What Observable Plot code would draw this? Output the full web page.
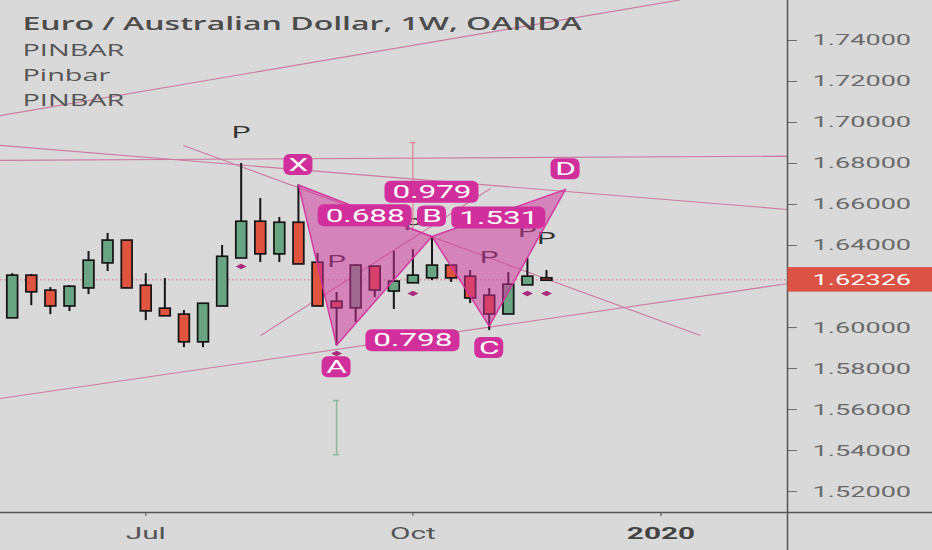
<!DOCTYPE html>
<html>
<head>
<meta charset="utf-8">
<script src="https://cdn.jsdelivr.net/npm/d3@7"></script>
<script src="https://cdn.jsdelivr.net/npm/@observablehq/plot@0.6"></script>
<style>
  html, body { margin: 0; padding: 0; background: #d9d9d9; overflow: hidden; }
</style>
</head>
<body>
<div id="chart"></div>
<script>
// ---------- DATA ----------
const weeks = ["2019-05-13","2019-05-20","2019-05-27","2019-06-03","2019-06-10","2019-06-17","2019-06-24",
  "2019-07-01","2019-07-08","2019-07-15","2019-07-22","2019-07-29","2019-08-05","2019-08-12","2019-08-19",
  "2019-08-26","2019-09-02","2019-09-09","2019-09-16","2019-09-23","2019-09-30","2019-10-07","2019-10-14",
  "2019-10-21","2019-10-28","2019-11-04","2019-11-11","2019-11-18","2019-11-25"];
const opens  = [1.6049,1.6249,1.6176,1.6107,1.6195,1.6317,1.6420,1.6200,1.6088,1.6059,1.5932,1.6107,1.6341,1.6512,1.6361,
  1.6507,1.6312,1.6122,1.6098,1.6293,1.6180,1.6220,1.6244,1.6298,1.6244,1.6151,1.6068,1.6210,1.6236];
const highs  = [1.6263,1.6259,1.6195,1.6205,1.6371,1.6459,1.6422,1.6263,1.6239,1.6083,1.6117,1.6400,1.6800,1.6629,1.6537,
  1.6695,1.6361,1.6171,1.6307,1.6297,1.6371,1.6380,1.6444,1.6302,1.6278,1.6190,1.6268,1.6337,1.6278];
const lows   = [1.6045,1.6107,1.6063,1.6078,1.6161,1.6273,1.6193,1.6034,1.6055,1.5902,1.5902,1.6105,1.6338,1.6317,1.6317,
  1.6310,1.6105,1.5912,1.6024,1.6146,1.6088,1.6215,1.6229,1.6220,1.6117,1.5985,1.6066,1.6208,1.6229];
const closes = [1.6249,1.6176,1.6107,1.6195,1.6322,1.6420,1.6195,1.6083,1.6059,1.5932,1.6112,1.6341,1.6512,1.6361,1.6507,
  1.6312,1.6107,1.6098,1.6298,1.6185,1.6220,1.6249,1.6298,1.6244,1.6146,1.6068,1.6205,1.6244,1.62326];
const lastPrice = 1.62326;

const xDomain = ["2019-05-08T17:00Z", "2020-02-21T10:00Z"];
const yDomain = [1.5098, 1.7595];
const yTicks = [1.52, 1.54, 1.56, 1.58, 1.60, 1.64, 1.66, 1.68, 1.70, 1.72, 1.74];
const xTickDates = ["2019-07-01", "2019-10-07", "2020-01-06"];
const xTickLabels = ["Jul", "Oct", "2020"];
const xTickBold = [false, false, true];

const titleText = "Euro / Australian Dollar, 1W, OANDA";
const indicatorNames = ["PINBAR", "Pinbar", "PINBAR"];

// XABCD pattern
const pNames  = ["X", "A", "B", "C", "D"];
const pDates  = ["2019-08-26", "2019-09-09", "2019-10-14", "2019-11-04", "2019-12-02"];
const pPrices = [1.6695, 1.5914, 1.6444, 1.6007, 1.6674];
const pSide   = ["above", "below", "above", "below", "above"];
const ratioTexts = ["0.688", "0.798", "1.531", "0.979"];
const ratioFrom  = ["X", "A", "B", "X"];
const ratioTo    = ["B", "C", "D", "D"];

// pinbar signals
const pinDates  = ["2019-08-05", "2019-09-09", "2019-10-07", "2019-11-04", "2019-11-18", "2019-11-25"];
const pinPrices = [1.6951, 1.6322, 1.6500, 1.6339, 1.6466, 1.6434];
const diamondDates  = ["2019-08-05", "2019-09-09", "2019-10-07", "2019-11-18", "2019-11-25"];
const diamondPrices = [1.6298, 1.5873, 1.6166, 1.6166, 1.6166];

// hand-drawn trend lines
const lineStartDates  = ["2019-05-06", "2019-05-06", "2019-05-06", "2019-07-14T19:00Z", "2019-05-06", "2019-08-12T03:00Z"];
const lineStartPrices = [1.7028, 1.6891, 1.6815, 1.6888, 1.5649, 1.5961];
const lineEndDates    = ["2020-01-13", "2020-02-24", "2020-02-24", "2020-01-20T12:00Z", "2020-02-24", "2019-11-04T11:00Z"];
const lineEndPrices   = [1.7598, 1.6573, 1.6836, 1.5961, 1.6219, 1.6678];

// vertical measure markers
const greenMarkDate = "2019-09-09", greenMarkTop = 1.5644, greenMarkBottom = 1.5380;
const pinkMarkDate  = "2019-10-07", pinkMarkTop  = 1.6902, pinkMarkBottom  = 1.6478;

// ---------- BUILD ----------
const GREEN = "#6aa583", RED = "#e0533f", MAGENTA = "#d1309c", LINE = "#cc7aa4";
const candles = weeks.map((w, i) => ({
  date: new Date(w), open: opens[i], high: highs[i], low: lows[i], close: closes[i],
  top: Math.max(opens[i], closes[i]), bottom: Math.min(opens[i], closes[i])
}));
const ups = candles.filter(d => d.close >= d.open);
const downs = candles.filter(d => d.close < d.open);

const pts = pNames.map((n, i) => ({name: n, date: new Date(pDates[i]), price: pPrices[i], side: pSide[i]}));
const byName = Object.fromEntries(pts.map(p => [p.name, p]));
const triPts = [];
[["X","A","B","X"], ["B","C","D","B"]].forEach((tri, t) => tri.forEach(n => triPts.push({tri: t, date: byName[n].date, price: byName[n].price})));
const ratios = ratioTexts.map((txt, i) => {
  const a = byName[ratioFrom[i]], b = byName[ratioTo[i]];
  return {text: txt, a, b, date: new Date((a.date.getTime() + b.date.getTime()) / 2), price: (a.price + b.price) / 2};
});
const pins = pinDates.map((d, i) => ({date: new Date(d), price: pinPrices[i]}));
const diamonds = diamondDates.map((d, i) => ({date: new Date(d), price: diamondPrices[i]}));
const trend = lineStartDates.map((d, i) => ({x1: new Date(d), y1: lineStartPrices[i], x2: new Date(lineEndDates[i]), y2: lineEndPrices[i]}));
const xTicks = xTickDates.map((d, i) => ({date: new Date(d), label: xTickLabels[i], bold: xTickBold[i]}));
const xEnd = new Date(xDomain[1]);
const labelOf = d => (xTicks.find(t => +t.date === +d) || {}).label;

const flatDiamond = {
  draw(ctx, size) {
    const r = Math.sqrt(size / Math.PI);
    ctx.moveTo(-r * 1.1, 0); ctx.lineTo(0, -r * 0.55); ctx.lineTo(r * 1.1, 0); ctx.lineTo(0, r * 0.55); ctx.closePath();
  }
};

const above = pts.filter(p => p.side === "above");
const below = pts.filter(p => p.side === "below");

const chart = Plot.plot({
  width: 932, height: 550,
  marginLeft: 0, marginRight: 145, marginTop: 0, marginBottom: 38,
  style: {background: "#d9d9d9", fontFamily: "Roboto", color: "#555"},
  x: {type: "utc", domain: xDomain.map(d => new Date(d))},
  y: {domain: yDomain},
  marks: [
    // trend lines
    Plot.link(trend, {x1: "x1", y1: "y1", x2: "x2", y2: "y2", stroke: LINE, strokeWidth: 1.1, clip: true}),
    // current price line
    Plot.ruleY([lastPrice], {stroke: "#e06a78", strokeDasharray: "1.5,2.5", strokeWidth: 1}),
    // candles
    Plot.ruleX(candles, {x: "date", y1: "high", y2: "low", stroke: "#151515", strokeWidth: 2}),
    Plot.ruleX(candles, {x: "date", y1: "top", y2: "bottom", stroke: "#151515", strokeWidth: 12.5, insetTop: -1.7, insetBottom: -1.7}),
    Plot.ruleX(ups, {x: "date", y1: "top", y2: "bottom", stroke: GREEN, strokeWidth: 9}),
    Plot.ruleX(downs, {x: "date", y1: "top", y2: "bottom", stroke: RED, strokeWidth: 9}),
    // pinbar markers
    Plot.text(pins, {x: "date", y: "price", text: () => "P", fontSize: 17, fill: "#333", lineAnchor: "middle"}),
    Plot.dot(diamonds, {x: "date", y: "price", symbol: flatDiamond, r: 5, fill: "#a92c7c", stroke: "none"}),
    // measure markers
    Plot.ruleX([greenMarkDate], {x: d => new Date(d), y1: greenMarkTop, y2: greenMarkBottom, stroke: "#8db89b", strokeWidth: 1.5}),
    Plot.ruleY([greenMarkTop, greenMarkBottom], {y: d => d, x1: () => new Date(greenMarkDate), x2: () => new Date(greenMarkDate), insetLeft: -3, insetRight: -3, stroke: "#8db89b", strokeWidth: 1.5}),
    Plot.ruleX([pinkMarkDate], {x: d => new Date(d), y1: pinkMarkTop, y2: pinkMarkBottom, stroke: "#e07f96", strokeWidth: 1.2}),
    Plot.ruleY([pinkMarkTop], {y: d => d, x1: () => new Date(pinkMarkDate), x2: () => new Date(pinkMarkDate), insetLeft: -3, insetRight: -3, stroke: "#e07f96", strokeWidth: 1.2}),
    // pattern triangles
    Plot.line(triPts, {x: "date", y: "price", z: "tri", fill: MAGENTA, fillOpacity: 0.5, stroke: MAGENTA, strokeWidth: 1.5, strokeOpacity: 0.9}),
    // ratio labels
    Plot.rect(ratios, {x1: "date", x2: "date", y1: "price", y2: "price", insetLeft: -47, insetRight: -47, insetTop: -6, insetBottom: -16, rx: 6, fill: MAGENTA}),
    Plot.text(ratios, {x: "date", y: "price", text: "text", dy: 5, fill: "white", fontSize: 18, lineAnchor: "middle"}),
    // point labels
    Plot.rect(above, {x1: "date", x2: "date", y1: "price", y2: "price", insetLeft: -14.5, insetRight: -14.5, insetTop: -30.5, insetBottom: 9.5, rx: 6, fill: MAGENTA}),
    Plot.text(above, {x: "date", y: "price", text: "name", dy: -20, fill: "white", fontSize: 18, lineAnchor: "middle"}),
    Plot.rect(below, {x1: "date", x2: "date", y1: "price", y2: "price", insetLeft: -14.5, insetRight: -14.5, insetTop: 11.5, insetBottom: -32.5, rx: 6, fill: MAGENTA}),
    Plot.text(below, {x: "date", y: "price", text: "name", dy: 22, fill: "white", fontSize: 18, lineAnchor: "middle"}),
    // title & indicators
    Plot.text([titleText], {frameAnchor: "top-left", text: d => d, dx: 22, dy: 29.3, lineAnchor: "bottom", fontFamily: "Open Sans", fontWeight: 600, fontSize: 18.3, fill: "#4c4c4c"}),
    ...indicatorNames.map((name, i) => Plot.text([name], {frameAnchor: "top-left", text: d => d, dx: 22, dy: 55 + 25 * i, lineAnchor: "bottom", fontFamily: "Open Sans", fontSize: 16.5, fill: "#555"})),
    // axes
    Plot.axisY(yTicks, {anchor: "right", tickFormat: d3.format(".5f"), tickSize: 9, tickPadding: 16, fontSize: 15.5, color: "#6a6a6a", label: null}),
    Plot.axisX(xTicks.filter(t => !t.bold).map(t => t.date), {tickFormat: labelOf, tickSize: 4, tickPadding: 10, fontSize: 17, color: "#555", label: null}),
    Plot.axisX(xTicks.filter(t => t.bold).map(t => t.date), {tickFormat: labelOf, tickSize: 4, tickPadding: 10, fontSize: 17, fontWeight: "bold", color: "#444", label: null}),
    Plot.ruleY([yDomain[0]], {insetRight: -145, stroke: "#555", strokeWidth: 1.5}),
    Plot.ruleX([xEnd], {insetBottom: -38, stroke: "#555", strokeWidth: 1.5}),
    // last price badge
    Plot.rect([lastPrice], {x1: () => xEnd, x2: () => xEnd, y1: d => d, y2: d => d, insetLeft: 0.5, insetRight: -145, insetTop: -12.3, insetBottom: -12.3, fill: "#db5345"}),
    Plot.text([lastPrice], {x: () => xEnd, y: d => d, text: d => d3.format(".5f")(d), dx: 25, textAnchor: "start", lineAnchor: "middle", fill: "white", fontSize: 15.5})
  ]
});

document.getElementById("chart").append(chart);

// the reference screenshot is horizontally stretched: widen glyphs accordingly
const SX = 1.75;
d3.select(chart).selectAll("text").each(function () {
  const tsp = this.querySelectorAll("tspan");
  const els = tsp.length ? Array.from(tsp) : [this];
  for (const el of els) {
    const L = el.getComputedTextLength();
    if (L > 0) {
      el.setAttribute("textLength", L * SX);
      el.setAttribute("lengthAdjust", "spacingAndGlyphs");
    }
  }
});
</script>
</body>
</html>
